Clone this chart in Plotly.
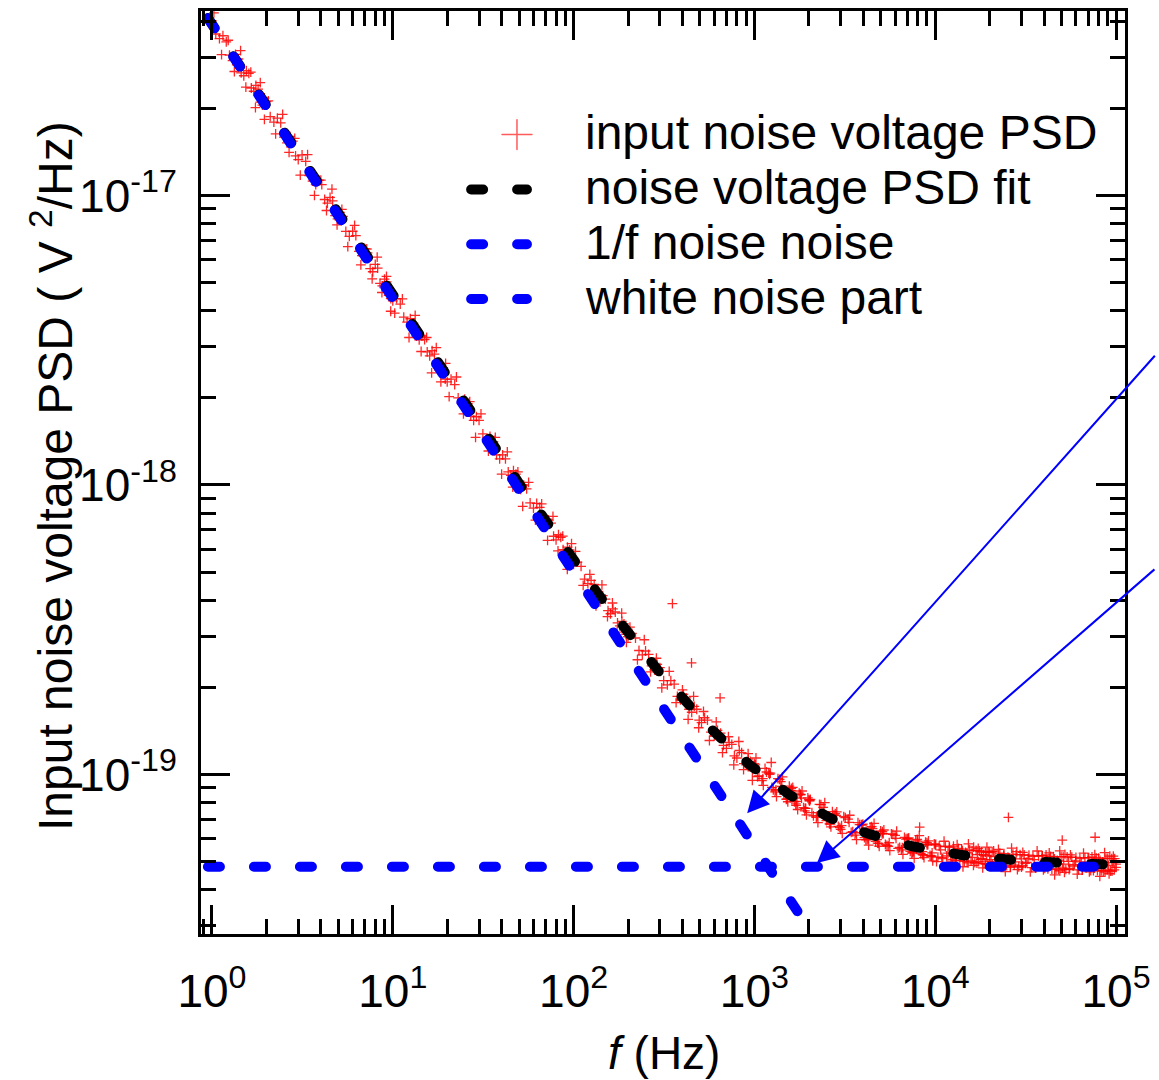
import numpy as np
import plotly.graph_objects as go

# ---- measured input-referred noise voltage PSD ----
# frequency in Hz, PSD in units of 1e-20 V^2/Hz
freq_dec0 = [1.0, 1.05, 1.1, 1.15, 1.2, 1.25, 1.3, 1.35, 1.4, 1.45, 1.5, 1.55, 1.6, 1.65, 1.7, 1.75,
             1.8, 1.85, 1.9, 1.95, 2.0, 2.1, 2.2, 2.3, 2.4, 2.5, 2.6, 2.7, 2.8, 2.9, 3.0, 3.15, 3.3,
             3.45, 3.6, 3.75, 3.9, 4.05, 4.2, 4.35, 4.5, 4.65, 4.8, 4.95, 5.1, 5.3, 5.5, 5.75, 6.0,
             6.25, 6.5, 6.75, 7.0, 7.25, 7.5, 7.75, 8.0, 8.25, 8.5, 8.75, 9.0, 9.25, 9.5, 9.75,
             1.025, 1.13, 1.23, 1.33, 1.44, 1.54, 1.64, 1.74, 1.85, 1.95, 2.05, 2.25, 2.46, 2.67,
             2.87, 3.08, 3.38, 3.69, 4.0, 4.3, 4.61, 4.92, 5.23, 5.64, 6.15, 6.66, 7.18, 7.69, 8.2,
             8.71, 9.23, 9.74]
psd_dec0 = [4010, 3610, 3480, 3560, 3390, 3050, 2920, 3070, 2960, 2650, 2590, 2700, 2640, 2350, 2290,
            2400, 2330, 2100, 2050, 2170, 2110, 1870, 1790, 1850, 1780, 1590, 1520, 1600, 1540, 1370,
            1330, 1380, 1310, 1170, 1120, 1090, 1130, 1090, 968, 940, 985, 958, 852, 830, 874, 847,
            751, 722, 752, 726, 641, 620, 655, 633, 559, 545, 578, 561, 497, 487, 514, 503, 452, 440,
            4273, 3065, 3435, 2679, 3165, 2368, 2667, 2011, 2452, 1831, 2121, 1631, 1904, 1409,
            1573, 1176, 1384, 1001, 1130, 887, 1052, 791, 895, 665, 788, 576, 653, 515, 612, 462,
            525, 398]

freq_dec1 = [10, 10.5, 11, 11.5, 12, 12.5, 13, 13.5, 14, 14.5, 15, 15.5, 16, 16.5, 17, 17.5, 18, 18.5,
             19, 19.5, 20, 21, 22, 23, 24, 25, 26, 27, 28, 29, 30, 31.5, 33, 34.5, 36, 37.5, 39, 40.5,
             42, 43.5, 45, 46.5, 48, 49.5, 51, 53, 55, 57.5, 60, 62.5, 65, 67.5, 70, 72.5, 75, 77.5,
             80, 82.5, 85, 87.5, 90, 92.5, 95, 97.5,
             10.25, 11.3, 12.3, 13.3, 14.35, 15.4, 16.4, 17.4, 18.45, 19.6, 20.5, 22.5, 24.6, 26.65,
             28.7, 30.75, 33.8, 36.9, 40.0, 43.0, 46.1, 49.2, 52.3, 56.4, 61.5, 66.6, 71.8, 76.9,
             82.0, 87.1, 92.3, 97.4]
psd_dec1 = [432, 440, 421, 380, 365, 375, 362, 327, 317, 327, 318, 288, 279, 291, 283, 257, 250, 260,
            254, 232, 227, 232, 222, 200, 192, 198, 191, 173, 167, 172, 167, 150, 144, 147, 141, 127,
            123, 127, 123, 111, 108, 112, 109, 98.9, 96.5, 99.8, 97.0, 86.7, 83.2, 86.4, 83.6, 75.1,
            72.7, 75.8, 73.8, 66.5, 64.6, 67.3, 65.9, 59.8, 58.3, 61.0, 59.6, 54.4,
            392, 439, 323, 385, 289, 323, 244, 298, 227, 263, 202, 236, 176, 194, 146, 176, 131,
            146, 109, 130, 98.3, 111, 84.4, 102, 75.6, 86.0, 64.4, 77.9, 59.2, 66.6, 51.1, 62.7]

freq_dec2 = [100, 105, 110, 115, 120, 125, 130, 135, 140, 145, 150, 155, 160, 165, 170, 175, 180, 185,
             190, 195, 200, 210, 220, 230, 240, 250, 260, 270, 280, 290, 300, 315, 330, 345, 360, 375,
             390, 405, 420, 435, 450, 465, 480, 495, 510, 530, 550, 575, 600, 625, 650, 675, 700, 725,
             750, 775, 800, 825, 850, 875, 900, 925, 950, 975, 352, 449, 646,
             102.5, 113, 123, 133, 143.5, 154, 164, 174, 184.5, 196, 205, 225.5, 246, 266.5, 287,
             307.5, 338, 369, 400, 430, 461, 492, 523, 564, 615, 666, 718, 769, 820, 871, 923, 974]
psd_dec2 = [53.2, 54.1, 52.3, 47.3, 45.6, 46.8, 45.3, 41.3, 40.0, 41.5, 40.3, 36.8, 35.9, 37.3, 36.4,
            33.4, 32.6, 33.8, 33.1, 30.5, 29.9, 30.7, 29.6, 26.8, 25.9, 26.7, 26.0, 23.7, 23.0, 24.0,
            23.4, 21.1, 20.4, 21.1, 20.5, 18.6, 18.1, 18.9, 18.4, 16.8, 16.4, 17.2, 16.8, 15.4, 15.1,
            15.7, 15.4, 14.0, 13.6, 14.2, 13.9, 12.6, 12.3, 12.9, 12.7, 11.6, 11.4, 12.1, 11.9, 10.9,
            10.8, 11.3, 11.1, 10.3, 38.9, 24.3, 18.4,
            59.0, 45.0, 49.1, 38.2, 45.2, 35.1, 39.1, 31.0, 36.1, 28.6, 32.3, 24.9, 29.2, 22.6, 25.2,
            19.9, 22.7, 17.7, 19.6, 15.5, 18.6, 14.5, 16.5, 13.1, 15.2, 11.9, 13.5, 10.8, 13.0, 10.4,
            11.8, 9.54]

freq_dec3 = [1000, 1040, 1100, 1145, 1200, 1250, 1300, 1350, 1400, 1455, 1500, 1560, 1600, 1665, 1700,
             1770, 1800, 1870, 1900, 1975, 2000, 2080, 2200, 2290, 2400, 2500, 2600, 2700, 2800, 2910,
             3000, 3120, 3300, 3430, 3600, 3740, 3900, 4060, 4200, 4370, 4500, 4680, 4800, 4990, 5100,
             5300, 5500, 5720, 6000, 6240, 6500, 6760, 7000, 7280, 7500, 7800, 8000, 8320, 8500, 8840,
             9000, 9360, 9500, 9880, 1239, 8200,
             1020, 1120, 1225, 1325, 1430, 1530, 1630, 1735, 1835, 1940, 2040, 2245, 2450, 2650, 2855,
             3060, 3365, 3670, 3980, 4285, 4590, 4900, 5200, 5610, 6120, 6630, 7140, 7650, 8160, 8670,
             9180, 9690,
             1012, 1113, 1214, 1316, 1417, 1518, 1619, 1720, 1822, 1923, 2024, 2226, 2429, 2631, 2834,
             3036, 3340, 3643, 3947, 4250, 4554, 4858, 5161, 5566, 6072, 6578, 7084, 7590, 8096, 8602,
             9108, 9614,
             1060, 1166, 1272, 1378, 1484, 1590, 1696, 1802, 1908, 2014, 2120, 2332, 2544, 2756, 2968,
             3180, 3498, 3816, 4134, 4452, 4770, 5088, 5406, 5830, 6360, 6890, 7420, 7950, 8480, 9010,
             9540, 10070]
psd_dec3 = [10.9, 9.84, 9.52, 10.5, 10.1, 9.02, 8.71, 9.68, 9.45, 8.55, 8.21, 9.12, 8.95, 8.05, 7.82,
            8.62, 8.51, 7.68, 7.49, 8.30, 8.19, 7.38, 7.11, 7.88, 7.70, 6.93, 6.75, 7.44, 7.33, 6.62,
            6.46, 7.15, 7.01, 6.31, 6.17, 6.82, 6.71, 6.05, 5.96, 6.58, 6.50, 5.87, 5.79, 6.39, 6.34,
            5.73, 5.65, 6.23, 6.16, 5.56, 5.49, 6.06, 6.01, 5.43, 5.37, 5.93, 5.89, 5.33, 5.29, 5.84,
            5.81, 5.25, 5.21, 5.76, 11.0, 6.58,
            11.4, 9.17, 10.1, 8.38, 9.81, 8.05, 9.02, 7.57, 8.77, 7.25, 8.20, 6.82, 8.00, 6.59, 7.43,
            6.26, 7.23, 5.96, 6.74, 5.70, 6.78, 5.65, 6.43, 5.46, 6.37, 5.30, 6.04, 5.13, 6.15, 5.16,
            5.90, 5.03,
            10.8, 9.67, 10.0, 8.84, 9.10, 8.23, 8.77, 8.07, 8.29, 7.64, 8.13, 7.19, 7.42, 6.74, 7.22,
            6.66, 6.83, 6.29, 6.68, 6.01, 6.28, 5.78, 6.25, 5.81, 6.02, 5.59, 5.99, 5.41, 5.70, 5.27,
            5.73, 5.36,
            9.89, 10.2, 8.85, 9.62, 8.54, 8.81, 7.91, 8.54, 7.64, 8.11, 7.20, 7.87, 6.99, 7.25, 6.55,
            7.10, 6.34, 6.71, 5.95, 6.60, 5.96, 6.24, 5.69, 6.21, 5.60, 5.98, 5.35, 5.97, 5.41, 5.71,
            5.23, 5.73]

freq_dec4 = [10000, 10350, 10700, 11000, 11380, 11770, 12000, 12420, 12840, 13000, 13450, 13910,
             14000, 14490, 14980, 15000, 15520, 16050, 16000, 16560, 17120, 17000, 17590, 18190,
             18000, 18630, 19260, 19000, 19660, 20330, 20000, 20700, 21400, 22000, 22770, 23540,
             24000, 24840, 25680, 26000, 26910, 27820, 28000, 28980, 29960, 30000, 31050, 32100,
             33000, 34150, 35310, 36000, 37260, 38520, 39000, 40370, 41730, 42000, 43470, 44940,
             45000, 46580, 48150, 48000, 49680, 51360, 51000, 52790, 54570, 55000, 56930, 58850,
             60000, 62100, 64200, 65000, 67280, 69550, 70000, 72450, 74900, 75000, 77630, 80250,
             80000, 82800, 85600, 85000, 87980, 90950, 90000, 93150, 96300, 95000, 98330, 100000,
             25400, 50400, 76600,
             10170, 11190, 12200, 13220, 14240, 15260, 16270, 17290, 18310, 19320, 20340, 22370,
             24410, 26440, 28480, 30510, 33560, 36610, 39660, 42710, 45770, 48820, 51870, 55940,
             61020, 66110, 71190, 76280, 81360, 86450, 91530, 96620,
             10520, 11570, 12620, 13680, 14730, 15780, 16830, 17880, 18940, 19990, 21040, 23140,
             25250, 27350, 29460, 31560, 34720, 37870, 41030, 44180, 47340, 50500, 53650, 57860,
             63120, 68380, 73640, 78900, 84160, 89420, 94680, 99940,
             10870, 11960, 13040, 14130, 15220, 16310, 17390, 18480, 19570, 20650, 21740, 23910,
             26090, 28260, 30440, 32610, 35870, 39130, 42390, 45650, 48920, 52180, 55440, 59790,
             65220, 70660, 76090, 81520, 86960, 92400, 97830]
psd_dec4 = [5.71, 5.18, 5.49, 5.12, 5.63, 5.35, 5.60, 5.09, 5.41, 5.04, 5.55, 5.22,
            5.52, 5.01, 5.36, 4.99, 5.49, 5.17, 5.46, 4.96, 5.29, 4.94, 5.44, 5.12,
            5.42, 4.92, 5.24, 4.90, 5.40, 5.08, 5.38, 4.88, 5.20, 4.86, 5.35, 5.03,
            5.33, 4.84, 5.15, 4.82, 5.31, 4.99, 5.29, 4.80, 5.11, 4.79, 5.28, 4.97,
            5.26, 4.77, 5.08, 4.75, 5.24, 4.94, 5.23, 4.74, 5.05, 4.72, 5.21, 4.91,
            5.20, 4.71, 5.02, 4.71, 5.20, 4.90, 5.19, 4.70, 5.01, 4.69, 5.18, 4.88,
            5.17, 4.68, 4.99, 4.67, 5.16, 4.87, 5.15, 4.66, 4.98, 4.66, 5.15, 4.86,
            5.14, 4.65, 4.97, 4.64, 5.13, 4.85, 5.13, 4.64, 4.96, 4.64, 5.12, 4.90,
            7.11, 5.93, 6.07,
            5.00, 5.88, 5.02, 5.72, 4.80, 5.76, 4.85, 5.55, 4.76, 5.61, 4.82, 5.51,
            4.62, 5.57, 4.69, 5.38, 4.61, 5.44, 4.68, 5.36, 4.50, 5.45, 4.59, 5.28,
            4.53, 5.35, 4.61, 5.29, 4.45, 5.37, 4.54, 5.22,
            5.66, 5.23, 5.66, 5.04, 5.38, 5.03, 5.47, 5.09, 5.38, 5.00, 5.44, 4.85,
            5.18, 4.86, 5.29, 4.93, 5.21, 4.84, 5.28, 4.71, 5.05, 4.75, 5.19, 4.83,
            5.12, 4.76, 5.19, 4.66, 4.99, 4.68, 5.12, 4.78,
            5.17, 5.66, 5.18, 5.46, 4.95, 5.61, 5.00, 5.29, 4.91, 5.41, 4.98, 5.25,
            4.78, 5.41, 4.84, 5.13, 4.76, 5.24, 4.83, 5.11, 4.65, 5.30, 4.74, 5.03,
            4.67, 5.16, 4.75, 5.05, 4.60, 5.22, 4.68]

# ---- fit model: S(f) = A / f^alpha + S_white ----
flicker_amp = 3.9e-17     # V^2/Hz at 1 Hz
flicker_exp = 0.946
white_level = 4.8e-20     # V^2/Hz

x_tick_exps = [0, 1, 2, 3, 4, 5]
y_tick_exps = [-19, -18, -17]

legend_labels = ["input noise voltage PSD", "noise voltage PSD fit",
                 "1/f noise noise", "white noise part"]

freq = np.array(freq_dec0 + freq_dec1 + freq_dec2 + freq_dec3 + freq_dec4, dtype=float)
psd = np.array(psd_dec0 + psd_dec1 + psd_dec2 + psd_dec3 + psd_dec4, dtype=float) * 1e-20

f_line = np.logspace(np.log10(0.95), 5, 800)
flicker = flicker_amp / f_line ** flicker_exp
white = np.full_like(f_line, white_level)
fit = flicker + white

BLUE = "#0000ff"
DASH = "12px,34px"
FONT = "Liberation Sans, Arial, sans-serif"

fig = go.Figure()
fig.add_trace(go.Scatter(
    x=freq, y=psd, mode="markers", name=legend_labels[0], showlegend=False,
    marker=dict(symbol="cross-thin", size=7, color="red",
                line=dict(width=1.3, color="rgba(255,0,0,0.85)"))))
fig.add_trace(go.Scatter(x=f_line, y=fit, mode="lines", name=legend_labels[1], showlegend=False,
                         line=dict(color="black", width=10, dash=DASH)))
fig.add_trace(go.Scatter(x=f_line, y=flicker, mode="lines", name=legend_labels[2], showlegend=False,
                         line=dict(color=BLUE, width=10, dash=DASH)))
fig.add_trace(go.Scatter(x=f_line, y=white, mode="lines", name=legend_labels[3], showlegend=False,
                         line=dict(color=BLUE, width=10, dash=DASH)))

# plot-area geometry in pixels
W, H = 1159, 1080
L, R, T, B = 201, 1128, 8, 934


def px(x):
    return (x - L) / (R - L)


def py(y):
    return (B - y) / (B - T)


# legend drawn as shapes + text
rows_y = [132, 187, 242, 297]
shapes = [
    dict(type="line", xref="paper", yref="paper", x0=px(503), x1=px(533), y0=py(rows_y[0]),
         y1=py(rows_y[0]), line=dict(color="#ff5a5a", width=1.5)),
    dict(type="line", xref="paper", yref="paper", x0=px(518), x1=px(518), y0=py(rows_y[0] - 15),
         y1=py(rows_y[0] + 15), line=dict(color="#ff5a5a", width=1.5)),
]
for yy, col in zip(rows_y[1:], ["black", BLUE, BLUE]):
    shapes.append(dict(type="line", xref="paper", yref="paper", x0=px(472), x1=px(528),
                       y0=py(yy), y1=py(yy), line=dict(color=col, width=10, dash=DASH)))

annotations = []
for yy, txt in zip(rows_y, legend_labels):
    annotations.append(dict(xref="paper", yref="paper", x=px(584), y=py(yy - 2), xanchor="left",
                            yanchor="middle", text=txt, showarrow=False,
                            font=dict(family=FONT, size=48, color="black")))

# axis titles
annotations.append(dict(xref="paper", yref="paper", x=px(666), y=py(1053), xanchor="center",
                        yanchor="middle", text="<i>f</i> (Hz)", showarrow=False,
                        font=dict(family=FONT, size=46, color="black")))
annotations.append(dict(xref="paper", yref="paper", x=px(52), y=py(474), xanchor="center",
                        yanchor="middle", textangle=-90,
                        text="Input noise voltage PSD ( V <sup>2</sup>/Hz)", showarrow=False,
                        font=dict(family=FONT, size=48, color="black")))

# pointer arrows to the 1/f and white-noise components (tails at the right figure edge)
annotations.append(dict(x=2.960, y=-19.134, xref="x", yref="y", text="", showarrow=True,
                        ax=409, ay=-459, arrowhead=2, arrowsize=2.2, arrowwidth=2,
                        arrowcolor=BLUE, standoff=0))
annotations.append(dict(x=3.346, y=-19.306, xref="x", yref="y", text="", showarrow=True,
                        ax=339, ay=-295, arrowhead=2, arrowsize=2.2, arrowwidth=2,
                        arrowcolor=BLUE, standoff=0))

x_minor = [m * 10.0 ** d for d in range(-1, 6) for m in range(2, 10)]
y_minor = [m * 10.0 ** d for d in range(-20, -16) for m in range(2, 10)]

tick_font = dict(family=FONT, size=46, color="black")
axis_common = dict(type="log", showgrid=False, zeroline=False, showline=True, linewidth=3,
                   linecolor="black", mirror="ticks", ticks="inside", ticklen=29, tickwidth=3,
                   tickcolor="black", tickfont=tick_font)

fig.update_layout(
    width=W, height=H,
    margin=dict(l=L, r=W - R, t=T, b=H - B),
    paper_bgcolor="white", plot_bgcolor="white",
    showlegend=False,
    shapes=shapes, annotations=annotations,
    xaxis=dict(range=[-0.0606, 5.0496],
               tickvals=[10.0 ** e for e in x_tick_exps],
               ticktext=[f"10<sup>{e}</sup>" for e in x_tick_exps],
               minor=dict(tickvals=x_minor, ticks="inside", ticklen=15, tickwidth=3,
                          tickcolor="black"),
               ticklabelstandoff=15, **axis_common),
    yaxis=dict(range=[-19.551, -16.363],
               tickvals=[10.0 ** e for e in y_tick_exps],
               ticktext=[f"10<sup>{e}</sup>" for e in y_tick_exps],
               minor=dict(tickvals=y_minor, ticks="inside", ticklen=15, tickwidth=3,
                          tickcolor="black"),
               ticklabelstandoff=12, **axis_common),
)

round_caps = ("document.querySelectorAll('.js-line, .shapelayer path').forEach("
              "function(p){p.style.strokeLinecap='round';});")
fig.write_html("out.html", post_script=round_caps)
